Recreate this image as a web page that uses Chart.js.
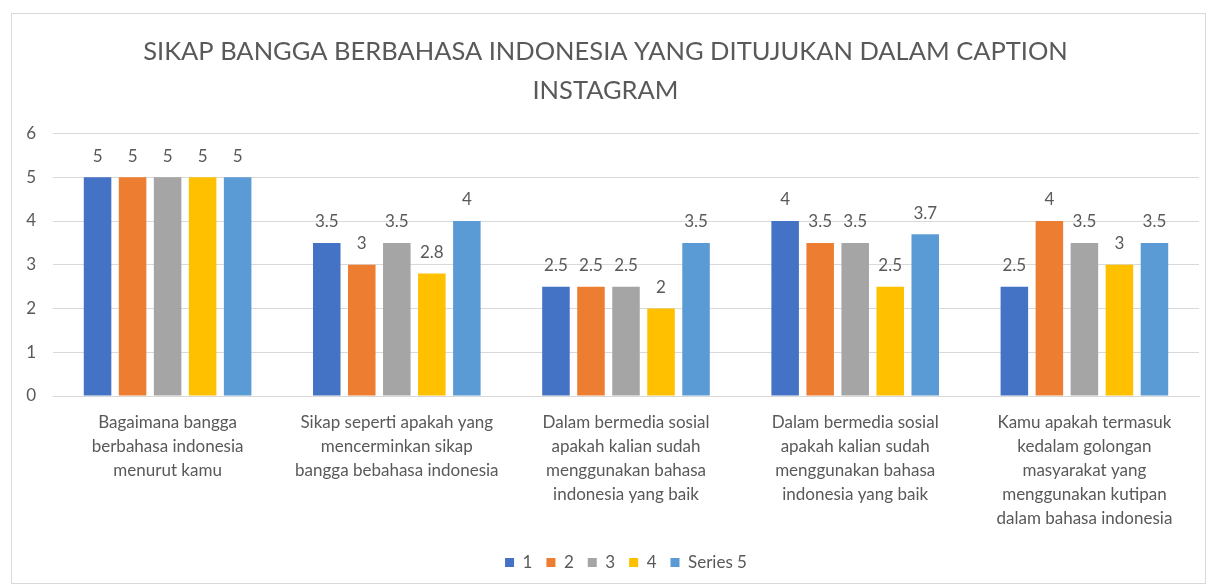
<!DOCTYPE html>
<html lang="id">
<head>
    <meta charset="UTF-8">
    <title>Sikap Bangga Berbahasa Indonesia</title>
    <script src="https://cdn.jsdelivr.net/npm/chart.js"></script>
    <style>
        body { margin: 0; background: #fff; }
        #frame {
            position: absolute;
            left: 11px;
            top: 13px;
            width: 1193px;
            height: 569px;
            border: 1px solid #d9d9d9;
        }
    </style>
</head>
<body>
    <div id="frame">
        <canvas id="sikapChart"></canvas>
    </div>

    <script>
        // Data
        const categories = [
            ['Bagaimana bangga', 'berbahasa indonesia', 'menurut kamu'],
            ['Sikap seperti apakah yang', 'mencerminkan sikap', 'bangga bebahasa indonesia'],
            ['Dalam bermedia sosial', 'apakah kalian sudah', 'menggunakan bahasa', 'indonesia yang baik'],
            ['Dalam bermedia sosial', 'apakah kalian sudah', 'menggunakan bahasa', 'indonesia yang baik'],
            ['Kamu apakah termasuk', 'kedalam golongan', 'masyarakat yang', 'menggunakan kutipan', 'dalam bahasa indonesia']
        ];
        const seriesNames = ['1', '2', '3', '4', 'Series 5'];
        const series1 = [5, 3.5, 2.5, 4, 2.5];
        const series2 = [5, 3, 2.5, 3.5, 4];
        const series3 = [5, 3.5, 2.5, 3.5, 3.5];
        const series4 = [5, 2.8, 2, 2.5, 3];
        const series5 = [5, 4, 3.5, 3.7, 3.5];
        const yTicks = [0, 1, 2, 3, 4, 5, 6];

        const colors = ['#4472C4', '#ED7D31', '#A5A5A5', '#FFC000', '#5B9BD5'];
        const textColor = '#595959';
        const fontFamily = 'Lato, "Open Sans", sans-serif';

        // Value labels above each bar
        const barLabels = {
            id: 'barLabels',
            afterDatasetsDraw(chart) {
                const ctx = chart.ctx;
                ctx.save();
                ctx.font = '17px ' + fontFamily;
                ctx.fillStyle = textColor;
                ctx.textAlign = 'center';
                ctx.textBaseline = 'middle';
                chart.data.datasets.forEach((ds, i) => {
                    chart.getDatasetMeta(i).data.forEach((bar, j) => {
                        ctx.fillText(String(ds.data[j]), bar.x, bar.y - 21);
                    });
                });
                ctx.restore();
            }
        };

        const allSeries = [series1, series2, series3, series4, series5];

        new Chart(document.getElementById('sikapChart'), {
            type: 'bar',
            data: {
                labels: categories,
                datasets: allSeries.map((values, i) => ({
                    label: seriesNames[i],
                    data: values,
                    backgroundColor: colors[i],
                    categoryPercentage: 0.764,
                    barPercentage: 0.786
                }))
            },
            options: {
                responsive: true,
                maintainAspectRatio: false,
                animation: false,
                layout: { padding: { left: 0, right: 6, top: 0, bottom: 2 } },
                plugins: {
                    title: {
                        display: true,
                        text: ['SIKAP BANGGA BERBAHASA INDONESIA YANG DITUJUKAN DALAM CAPTION', 'INSTAGRAM'],
                        color: textColor,
                        font: { family: fontFamily, size: 25.5, weight: 'normal', lineHeight: 1.5 },
                        padding: { top: 19, bottom: 24 }
                    },
                    legend: {
                        position: 'bottom',
                        fullSize: false,
                        labels: {
                            boxWidth: 9,
                            boxHeight: 9,
                            padding: 14,
                            color: textColor,
                            font: { family: fontFamily, size: 17 }
                        }
                    },
                    tooltip: { enabled: false }
                },
                scales: {
                    x: {
                        grid: { display: false },
                        border: { color: '#d9d9d9' },
                        ticks: {
                            color: textColor,
                            padding: 7,
                            maxRotation: 0,
                            autoSkip: false,
                            font: { family: fontFamily, size: 17, lineHeight: 1.41 }
                        },
                        afterFit(scale) { scale.height = 144; }
                    },
                    y: {
                        min: 0,
                        max: 6,
                        afterBuildTicks(scale) { scale.ticks = yTicks.map(v => ({ value: v })); },
                        grid: { color: '#d9d9d9', drawTicks: false },
                        border: { display: false },
                        ticks: {
                            color: textColor,
                            padding: 17,
                            font: { family: fontFamily, size: 17 }
                        },
                        afterFit(scale) { scale.width = 41; }
                    }
                }
            },
            plugins: [barLabels]
        });
    </script>
</body>
</html>
